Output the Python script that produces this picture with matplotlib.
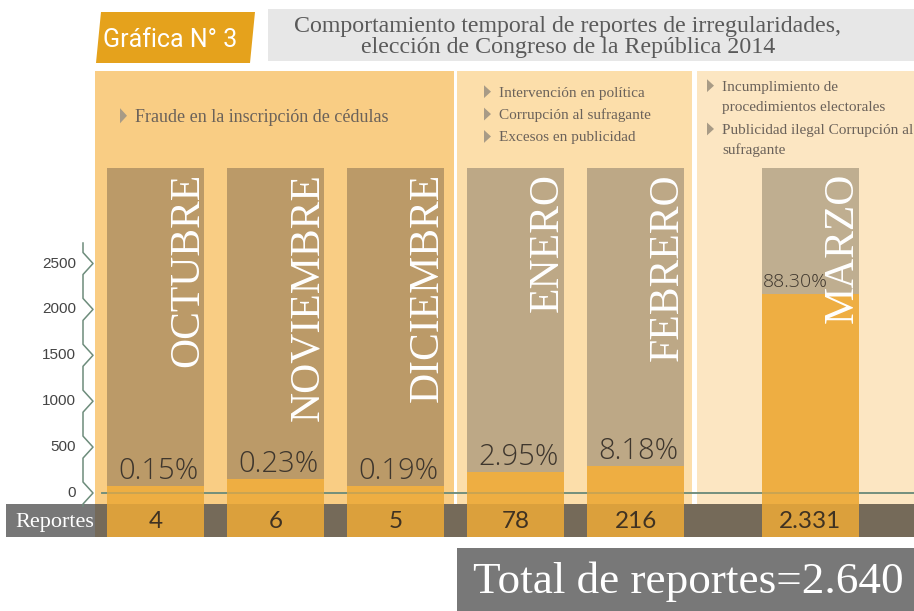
import numpy as np
import matplotlib
matplotlib.use('Agg')
import matplotlib.pyplot as plt
import matplotlib.transforms as mtransforms
from matplotlib.patches import Rectangle, Polygon

# data
months = ['OCTUBRE', 'NOVIEMBRE', 'DICIEMBRE', 'ENERO', 'FEBRERO', 'MARZO']
reports = [4, 6, 5, 78, 216, 2331]
percents = ['0.15%', '0.23%', '0.19%', '2.95%', '8.18%', '88.30%']
bar_heights = [75, 150, 75, 230, 295, 2170]   # drawn heights (stylised in the original)
y_ticks = [0, 500, 1000, 1500, 2000, 2500]
total = 2640
bullets_1 = ['Fraude en la inscripción de cédulas']
bullets_2 = ['Intervención en política', 'Corrupción al sufragante', 'Excesos en publicidad']
bullets_3 = [['Incumplimiento de', 'procedimientos electorales'],
             ['Publicidad ilegal Corrupción al', 'sufragante']]
title = ['Comportamiento temporal de reportes de irregularidades,',
         'elección de Congreso de la República 2014']

W, H = 914, 611
fig = plt.figure(figsize=(W / 100, H / 100), dpi=100)
P = mtransforms.Affine2D().scale(1 / W, -1 / H).translate(0, 1) + fig.transFigure

ax = fig.add_axes([0, 0, 1, 1])
ax.axis('off')
X0, DX = 155.5, 120.0   # px of first column centre, px per slot
Y0, DY = 493.0, 0.0918  # px of zero line, px per report
ax.set_xlim(-X0 / DX, (W - X0) / DX)
ax.set_ylim((Y0 - H) / DY, Y0 / DY)
B = mtransforms.blended_transform_factory(P, ax.transData)


def ydat(py):
    return (Y0 - py) / DY


def rect(x0, y0, x1, y1, color, z, alpha=1.0):
    ax.add_patch(Rectangle((x0, y0), x1 - x0, y1 - y0, transform=P, facecolor=color,
                           lw=0, zorder=z, alpha=alpha))


serif = 'Liberation Serif'
x = np.array([0, 1, 2, 3, 4, 5.458])
width = 97 / DX

# panels
rect(95, 71, 454, 504, '#F9CD84', 0.5)
rect(457, 71, 692, 504, '#FCDEAA', 0.5)
rect(697, 71, 914, 504, '#FCE6C2', 0.5)

# title + badge
rect(268, 9, 914, 61, '#E7E7E7', 0.5)
for i, line in enumerate(title):
    ax.text(568, [31.7, 53.3][i], line, transform=P, ha='center', va='baseline',
            fontsize=17.2, family=serif, color='#5A5A5A', zorder=5)
ax.add_patch(Polygon([(101, 12), (255, 12), (250, 63), (96, 63)], closed=True,
                     transform=P, facecolor='#E5A21C', lw=0, zorder=0.5))
ax.text(103, 47, 'Gráfica N° 3', transform=P, ha='left', va='baseline',
        fontsize=18, family='Roboto', color='white', zorder=5)

# brown month columns
browns = ['#BB9A68'] * 3 + ['#BDA886'] * 2 + ['#BFAE90']
ax.bar(x, ydat(168) - ydat(504), bottom=ydat(504), width=width, color=browns, lw=0, zorder=1)

# zero line
ax.plot([102, 914], [0, 0], transform=B, color='#6D8C7B', lw=1.3, zorder=1.5)

# reports band
rect(95, 504, 914, 537, '#7F7461', 2)
rect(6, 504, 95, 537, '#777777', 2)
ax.text(55, 527, 'Reportes', transform=P, ha='center', va='baseline',
        fontsize=16, family=serif, color='white', zorder=5)

# orange bars
ax.bar(x, np.array(bar_heights) - ydat(537), bottom=ydat(537), width=width,
       color='#EEAE42', lw=0, zorder=3)
rect(95, 504, 914, 537, 'black', 3.5, alpha=0.08)
ax.plot([102, 914], [0, 0], transform=B, color='#6D8C7B', lw=1.3, alpha=0.3, zorder=3.6)

# zigzag y axis
d = 11 / DY
pts_x, pts_y = [83], [ydat(243)]
for t in sorted(y_ticks, reverse=True):
    pts_x += [83, 93, 83]
    pts_y += [t + d, t, t - d]
pts_x.append(83)
pts_y.append(ydat(506))
ax.plot(pts_x, pts_y, transform=B, color='#6D8C7B', lw=1.1, zorder=4)
for t in y_ticks:
    ax.text(76, t, str(t), transform=B, ha='right', va='center',
            fontsize=11, family='Liberation Sans', color='#444444', zorder=5)

# labels per month
for i, m in enumerate(months):
    ax.text(x[i] + width / 2 - 6 / DX, ydat(173), m, rotation=90, rotation_mode='anchor',
            ha='right', va='baseline', fontsize=30, family=serif, color='white', zorder=5)
    ax.text(x[i], ydat(521), f'{reports[i]:,}'.replace(',', '.'), ha='center', va='center',
            fontsize=17.5, family='Lato', color='#3F3222', zorder=5)
    if i < 5:
        ax.annotate(percents[i], (x[i] + 3 / DX, bar_heights[i]), xytext=(0, 5),
                    textcoords='offset points', ha='center', va='baseline', fontsize=21,
                    family='Open Sans', fontweight='light', color='#3E362D', zorder=5)
    else:
        ax.annotate(percents[i], (x[i] - width / 2 + 1 / DX, bar_heights[i]), xytext=(0, 5),
                    textcoords='offset points', ha='left', va='baseline', fontsize=14,
                    family='Open Sans', fontweight='light', color='#3E362D', zorder=5)


# bullet texts
def bullet(tx, base, s, size):
    h = size * 1.389
    cy = base - 0.33 * h
    ax.add_patch(Polygon([(tx - 15, cy - 0.42 * h), (tx - 8, cy), (tx - 15, cy + 0.42 * h)],
                         closed=True, transform=P, facecolor='#A89B86', lw=0, zorder=5))
    ax.text(tx, base, s, transform=P, ha='left', va='baseline', fontsize=size,
            family=serif, color='#6B625A', zorder=5)


bullet(135, 121.7, bullets_1[0], 13)
for i, s in enumerate(bullets_2):
    bullet(499, 96.7 + 22.4 * i, s, 11)
for i, lines in enumerate(bullets_3):
    base = [90.7, 134][i]
    bullet(722, base, lines[0], 11)
    ax.text(722, base + 20, lines[1], transform=P, ha='left', va='baseline', fontsize=11,
            family=serif, color='#6B625A', zorder=5)

# total box
rect(457, 548, 914, 611, '#787878', 2)
ax.text(473, 593, f'Total de reportes={total:,}'.replace(',', '.'), transform=P, ha='left',
        va='baseline', fontsize=32.5, family=serif, color='white', zorder=5)

fig.savefig('out.png', dpi=100)
